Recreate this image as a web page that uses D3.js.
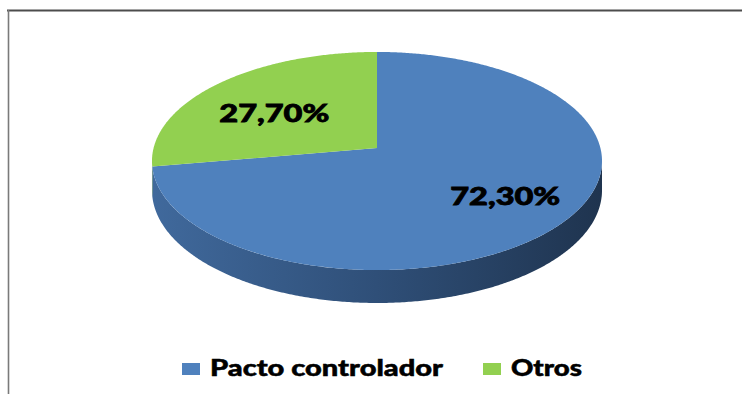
<!DOCTYPE html>
<html>
<head>
<meta charset="utf-8">
<script src="https://cdn.jsdelivr.net/npm/d3@7/dist/d3.min.js"></script>
<style>
  html, body { margin: 0; padding: 0; background: #ffffff; }
  svg { display: block; }
</style>
</head>
<body>
<svg id="chart" width="742" height="394"></svg>
<script>
// Shares of control
const categories = ["Pacto controlador", "Otros"];
const values = [72.3, 27.7];
const valueLabels = ["72,30%", "27,70%"];

const svg = d3.select("#chart");
const W = 742, H = 394;

// Frame (top and left edges)
svg.append("line").attr("x1", 7).attr("x2", W).attr("y1", 10.5).attr("y2", 10.5)
  .attr("stroke", "#4d4d4d").attr("stroke-width", 2);
svg.append("line").attr("x1", 8.5).attr("x2", 8.5).attr("y1", 10).attr("y2", H)
  .attr("stroke", "#7a7a7a").attr("stroke-width", 1.6);

const color = d3.scaleOrdinal().domain(categories).range(["#4f81bd", "#92d050"]);

// Tilted disc seen in perspective: apex, radii and foreshortening
const CX = 377, CY = 148;
const A = 223.4, B = 107.5, K = 0.1193, DEPTH = 29;

function proj(theta, f, drop) {
  const u = f * Math.sin(theta), v = -f * Math.cos(theta);
  const w = 1 - K * v;
  return [CX + A * u / w, CY + (B * v + (drop || 0)) / w];
}

function arcPoints(a0, a1, drop) {
  const n = Math.max(2, Math.ceil(Math.abs(a1 - a0) / (Math.PI / 360)));
  return d3.range(n + 1).map(i => proj(a0 + (a1 - a0) * i / n, 1, drop));
}

const pie = d3.pie().sort(null).value(d => d.value);
const slices = pie(categories.map((c, i) => ({ name: c, value: values[i], label: valueLabels[i] })));

const line = d3.line();

// Side gradient
const defs = svg.append("defs");
function sideGradient(id, stops) {
  const g = defs.append("linearGradient").attr("id", id)
    .attr("gradientUnits", "userSpaceOnUse")
    .attr("x1", CX - A).attr("x2", CX + A).attr("y1", 0).attr("y2", 0);
  stops.forEach(s => g.append("stop").attr("offset", s[0]).attr("stop-color", s[1]));
}
sideGradient("side-0", [[0, "#40699c"], [0.5, "#2f4f78"], [1, "#1f344f"]]);
sideGradient("side-1", [[0, "#6f9c3c"], [1, "#4a6a28"]]);

// Front wall visible between the two silhouette extremes
const edge = Math.acos(-K);            // angle of widest point
const frontStart = edge, frontEnd = 2 * Math.PI - edge;

slices.forEach((s, i) => {
  const a0 = Math.max(s.startAngle, frontStart);
  const a1 = Math.min(s.endAngle, frontEnd);
  if (a1 <= a0) return;
  const topEdge = arcPoints(a0, a1, 0);
  const bottomEdge = arcPoints(a1, a0, DEPTH);
  svg.append("path")
    .attr("d", line(topEdge.concat(bottomEdge)) + "Z")
    .attr("fill", `url(#side-${i})`);
});

// Top faces
slices.forEach(s => {
  const pts = [[CX, CY]].concat(arcPoints(s.startAngle, s.endAngle, 0));
  svg.append("path")
    .attr("d", line(pts) + "Z")
    .attr("fill", color(s.data.name));
});

// Value labels (radius fraction and baseline drop per slice)
const labelRadius = [0.71, 0.63];
const labelDrop = [5, 16];
const labelWidth = 110;
slices.forEach((s, i) => {
  const mid = (s.startAngle + s.endAngle) / 2;
  const p = proj(mid, labelRadius[i], 0);
  svg.append("text")
    .attr("x", p[0]).attr("y", p[1] + labelDrop[i])
    .attr("text-anchor", "middle")
    .attr("font-family", "Lato, 'Open Sans', sans-serif")
    .attr("font-weight", 900)
    .attr("font-size", 24)
    .attr("fill", "#000000")
    .attr("stroke", "#000000")
    .attr("stroke-width", 0.8)
    .attr("textLength", labelWidth)
    .attr("lengthAdjust", "spacingAndGlyphs")
    .text(s.data.label);
});

// Legend
const legendItems = [
  { name: categories[0], x: 182, textLen: 233 },
  { name: categories[1], x: 483, textLen: 71 }
];
const legend = svg.append("g");
legendItems.forEach(it => {
  legend.append("rect")
    .attr("x", it.x).attr("y", 363).attr("width", 18).attr("height", 12)
    .attr("fill", color(it.name));
  legend.append("text")
    .attr("x", it.x + 28).attr("y", 376)
    .attr("font-family", "Lato, 'Open Sans', sans-serif")
    .attr("font-weight", 900)
    .attr("font-size", 22)
    .attr("fill", "#000000")
    .attr("stroke", "#000000")
    .attr("stroke-width", 0.5)
    .attr("textLength", it.textLen)
    .attr("lengthAdjust", "spacingAndGlyphs")
    .text(it.name);
});
</script>
</body>
</html>
